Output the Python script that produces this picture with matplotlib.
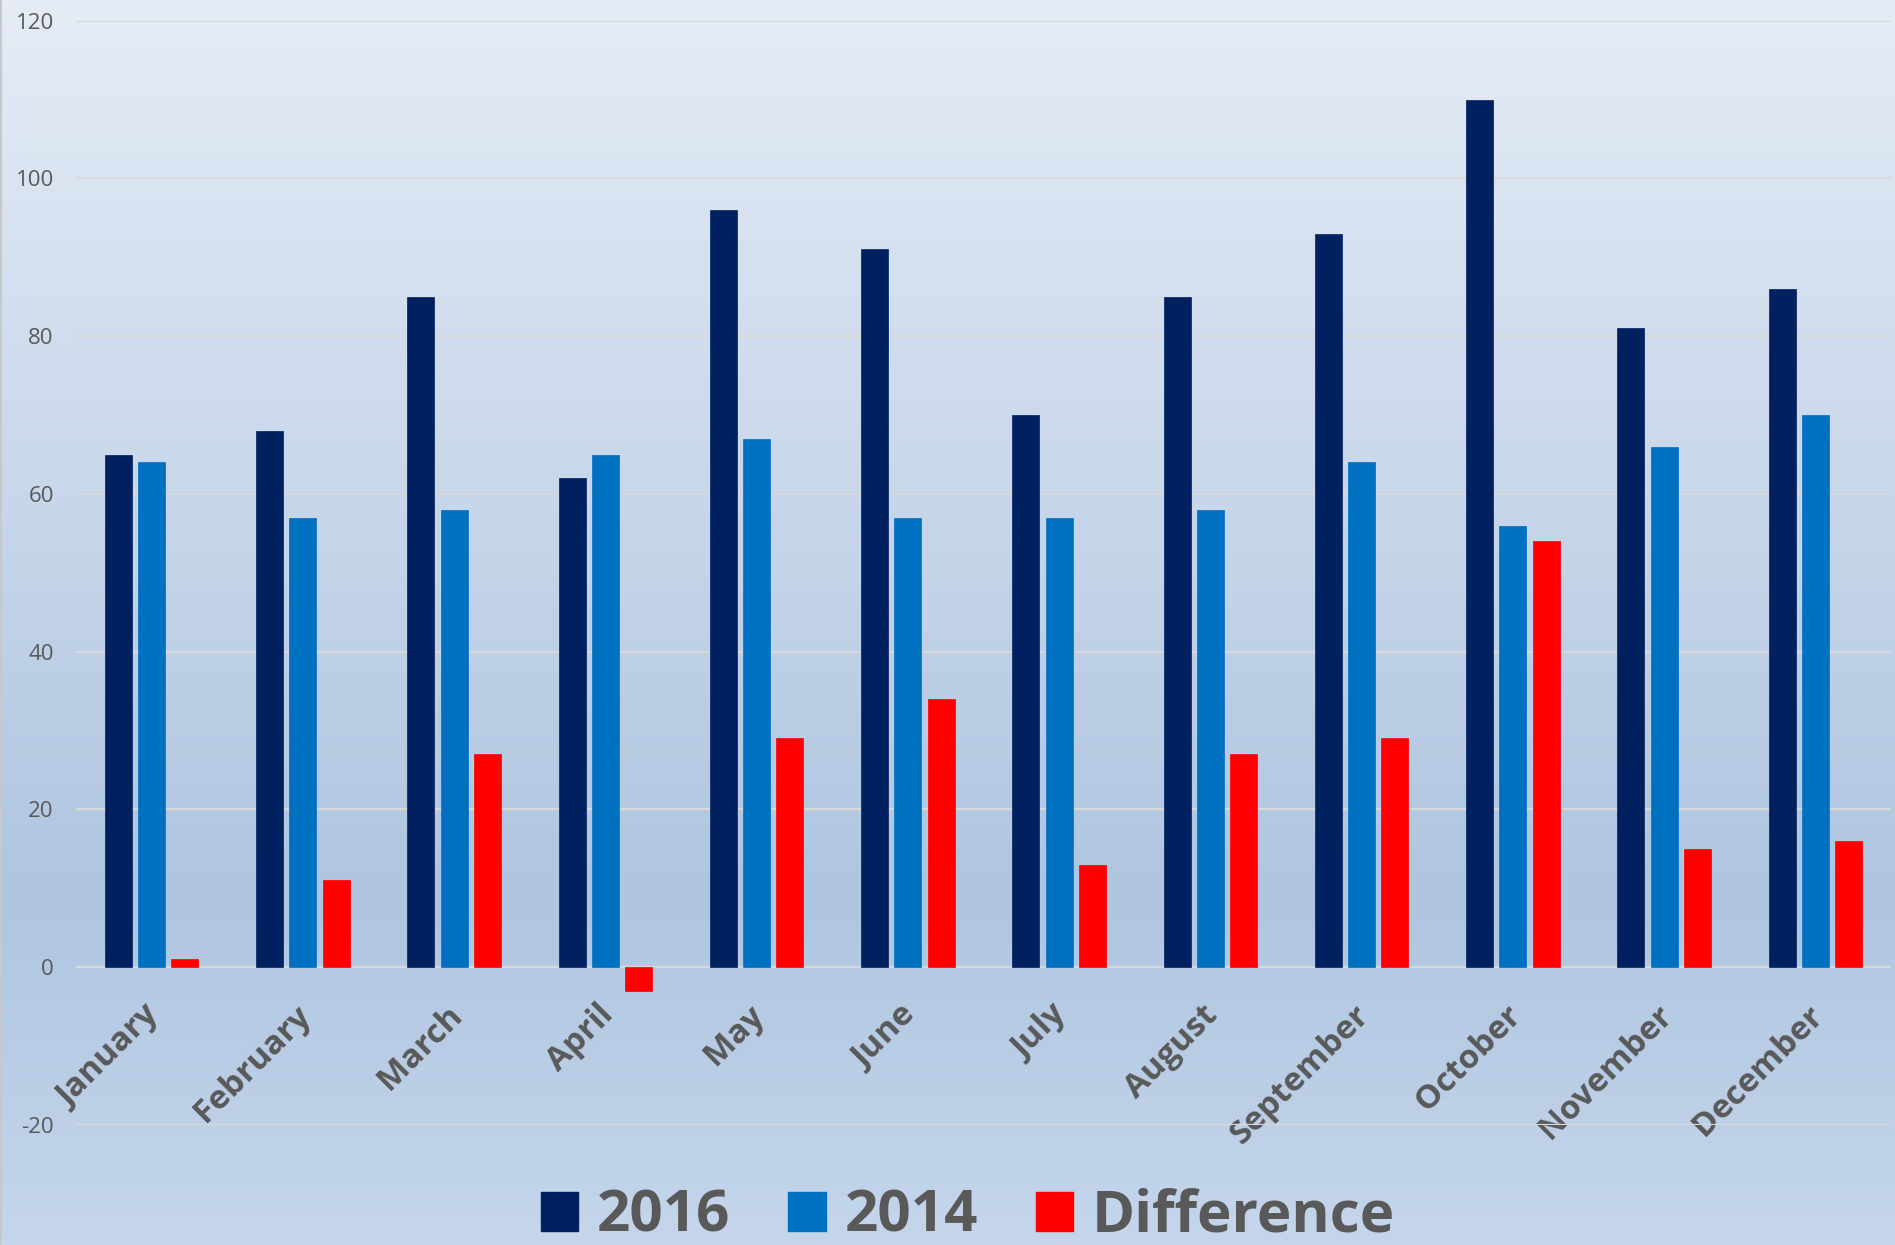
import numpy as np
import matplotlib
matplotlib.use("Agg")
import matplotlib.pyplot as plt
from matplotlib.patches import Patch
from matplotlib.colors import LinearSegmentedColormap
import matplotlib.transforms as mtransforms

months = ["January", "February", "March", "April", "May", "June", "July",
          "August", "September", "October", "November", "December"]
vals_2016 = [65, 68, 85, 62, 96, 91, 70, 85, 93, 110, 81, 86]
vals_2014 = [64, 57, 58, 65, 67, 57, 57, 58, 64, 56, 66, 70]
vals_diff = [1, 11, 27, -3, 29, 34, 13, 27, 29, 54, 15, 16]
series_names = ["2016", "2014", "Difference"]
series_colors = ["#002060", "#0070C0", "#FF0000"]
yticks = [-20, 0, 20, 40, 60, 80, 100, 120]

plt.rcParams['font.family'] = ['Open Sans', 'DejaVu Sans']

W, H = 1895, 1245
fig = plt.figure(figsize=(W / 100, H / 100), dpi=100)

# background gradient
bg = fig.add_axes([0, 0, 1, 1], zorder=-10)
cmap = LinearSegmentedColormap.from_list(
    "bg", [(0.0, (229/255, 236/255, 246/255)),
           (0.45, (196/255, 212/255, 233/255)),
           (0.72, (175/255, 197/255, 224/255)),
           (1.0, (197/255, 214/255, 236/255))])
grad = np.linspace(0, 1, 256).reshape(-1, 1)
bg.imshow(grad, aspect="auto", cmap=cmap, extent=[0, 1, 0, 1], origin="upper")
bg.plot([0.0004, 0.0004], [0, 1], color="#C8C8C8", lw=1.5)
bg.set_xlim(0, 1)
bg.set_ylim(0, 1)
bg.axis("off")

left, right = 76 / W, 1891 / W
top, bottom = 1 - 20.7 / H, 1 - 1125 / H
ax = fig.add_axes([left, bottom, right - left, top - bottom])
ax.set_facecolor("none")

x = np.arange(len(months))
bw = 0.179
step = 0.22
for i, (vals, c) in enumerate(zip([vals_2016, vals_2014, vals_diff], series_colors)):
    ax.bar(x + (i - 1) * step, vals, width=bw, color=c, zorder=3,
           edgecolor=c, linewidth=0.5)

ax.set_xlim(-0.5, len(months) - 0.5)
ax.set_ylim(-20, 120)
ax.set_yticks(yticks)
ax.set_yticklabels([str(v) for v in yticks])
ax.yaxis.grid(True, color="#D9D9D9", linewidth=1.6, zorder=0)
ax.set_axisbelow(True)
for s in ["top", "right", "left"]:
    ax.spines[s].set_visible(False)
ax.spines["bottom"].set_position(("data", 0))
ax.spines["bottom"].set_visible(False)
ax.tick_params(axis="y", length=0, pad=16, labelsize=16, labelcolor="#595959")
ax.tick_params(axis="x", length=0, pad=31)

ax.set_xticks(x)
ax.set_xticklabels(months, fontsize=24, fontweight="bold", color="#595959",
                   rotation=45, ha="right", va="center", rotation_mode="anchor")
off = mtransforms.ScaledTranslation(3 / 100, 0, fig.dpi_scale_trans)
for lab in ax.get_xticklabels():
    lab.set_transform(lab.get_transform() + off)

handles = [Patch(facecolor=c, edgecolor=c) for c in series_colors]
fig.legend(handles, series_names, loc="center", bbox_to_anchor=(968 / W, 1 - 1217 / H),
           ncol=3, frameon=False, prop={"size": 42, "weight": "bold"},
           labelcolor="#595959", handlelength=0.64, handleheight=0.64,
           handletextpad=0.32, columnspacing=1.0)

fig.savefig("out.png", dpi=100)
